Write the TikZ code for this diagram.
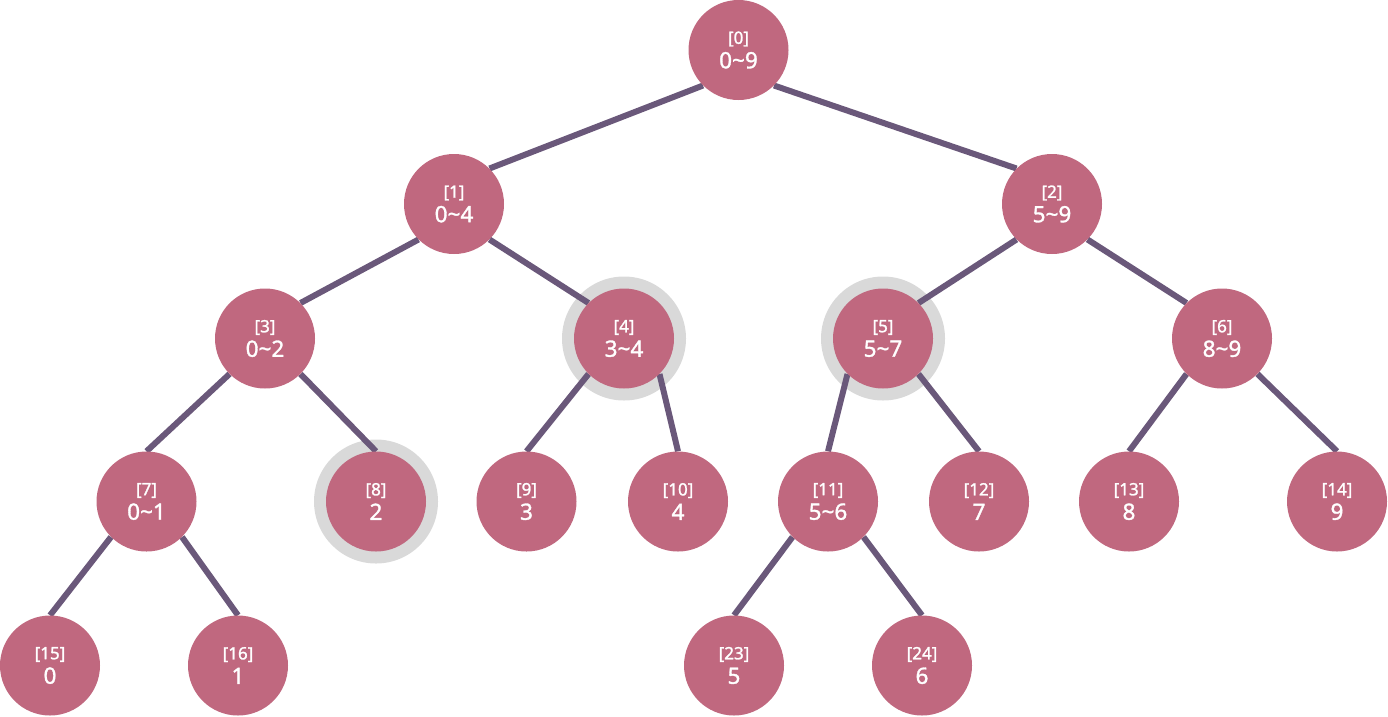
\documentclass[tikz,border=0pt]{standalone}
\usepackage{fontspec}
\setmainfont{Noto Sans}[FakeBold=1.4]
\definecolor{nodefill}{HTML}{C0687F}
\definecolor{edgecol}{HTML}{6A587A}
\definecolor{ringcol}{HTML}{D9D9D9}
\pgfdeclarelayer{rings}
\pgfdeclarelayer{edges}
\pgfsetlayers{rings,edges,main}
\tikzset{
  segnode/.style={circle, fill=nodefill, minimum size=100pt, inner sep=0pt,
    text=white, align=center, font=\fontsize{22.5}{24.5}\selectfont},
  ringnode/.style={circle, fill=ringcol, minimum size=124pt, inner sep=0pt},
  edge/.style={draw=edgecol, line width=6pt},
}
\newcommand{\seg}[2]{{\fontsize{17}{24.5}\selectfont[#1]}\\#2}
\begin{document}
\begin{tikzpicture}[x=1pt,y=-1pt]
\useasboundingbox (0,0) rectangle (1388,716);
% nodes
\node[segnode] (n0)  at (738.5,50)  {\seg{0}{0\char`\~9}};
\node[segnode] (n1)  at (454,204)   {\seg{1}{0\char`\~4}};
\node[segnode] (n2)  at (1052,204)  {\seg{2}{5\char`\~9}};
\node[segnode] (n3)  at (265,338.5) {\seg{3}{0\char`\~2}};
\node[segnode] (n4)  at (624,338.5) {\seg{4}{3\char`\~4}};
\node[segnode] (n5)  at (883,338.5) {\seg{5}{5\char`\~7}};
\node[segnode] (n6)  at (1222,338.5){\seg{6}{8\char`\~9}};
\node[segnode] (n7)  at (146.5,501.5) {\seg{7}{0\char`\~1}};
\node[segnode] (n8)  at (376,501.5) {\seg{8}{2}};
\node[segnode] (n9)  at (526.5,501.5) {\seg{9}{3}};
\node[segnode] (n10) at (678,501.5) {\seg{10}{4}};
\node[segnode] (n11) at (828,501.5) {\seg{11}{5\char`\~6}};
\node[segnode] (n12) at (979,501.5) {\seg{12}{7}};
\node[segnode] (n13) at (1129,501.5) {\seg{13}{8}};
\node[segnode] (n14) at (1337,501.5) {\seg{14}{9}};
\node[segnode] (n15) at (50,665.5)  {\seg{15}{0}};
\node[segnode] (n16) at (238,665.5) {\seg{16}{1}};
\node[segnode] (n23) at (734,665.5) {\seg{23}{5}};
\node[segnode] (n24) at (922,665.5) {\seg{24}{6}};
% rings
\begin{pgfonlayer}{rings}
\node[ringnode] (r4) at (n4) {};
\node[ringnode] (r5) at (n5) {};
\node[ringnode] (r8) at (n8) {};
\end{pgfonlayer}
% edges
\begin{pgfonlayer}{edges}
\draw[edge] (n0.225) -- (n1.45);
\draw[edge] (n0.315) -- (n2.135);
\draw[edge] (n1.225) -- (n3.45);
\draw[edge] (n1.315) -- (n4.135);
\draw[edge] (n2.225) -- (n5.45);
\draw[edge] (n2.315) -- (n6.135);
\draw[edge] (n3.225) -- (n7.north);
\draw[edge] (n3.315) -- (n8.north);
\draw[edge] (n4.225) -- (n9.north);
\draw[edge] (n4.315) -- (n10.north);
\draw[edge] (n5.225) -- (n11.north);
\draw[edge] (n5.315) -- (n12.north);
\draw[edge] (n6.225) -- (n13.north);
\draw[edge] (n6.315) -- (n14.north);
\draw[edge] (n7.225) -- (n15.north);
\draw[edge] (n7.315) -- (n16.north);
\draw[edge] (n11.225) -- (n23.north);
\draw[edge] (n11.315) -- (n24.north);
\end{pgfonlayer}
\end{tikzpicture}
\end{document}
